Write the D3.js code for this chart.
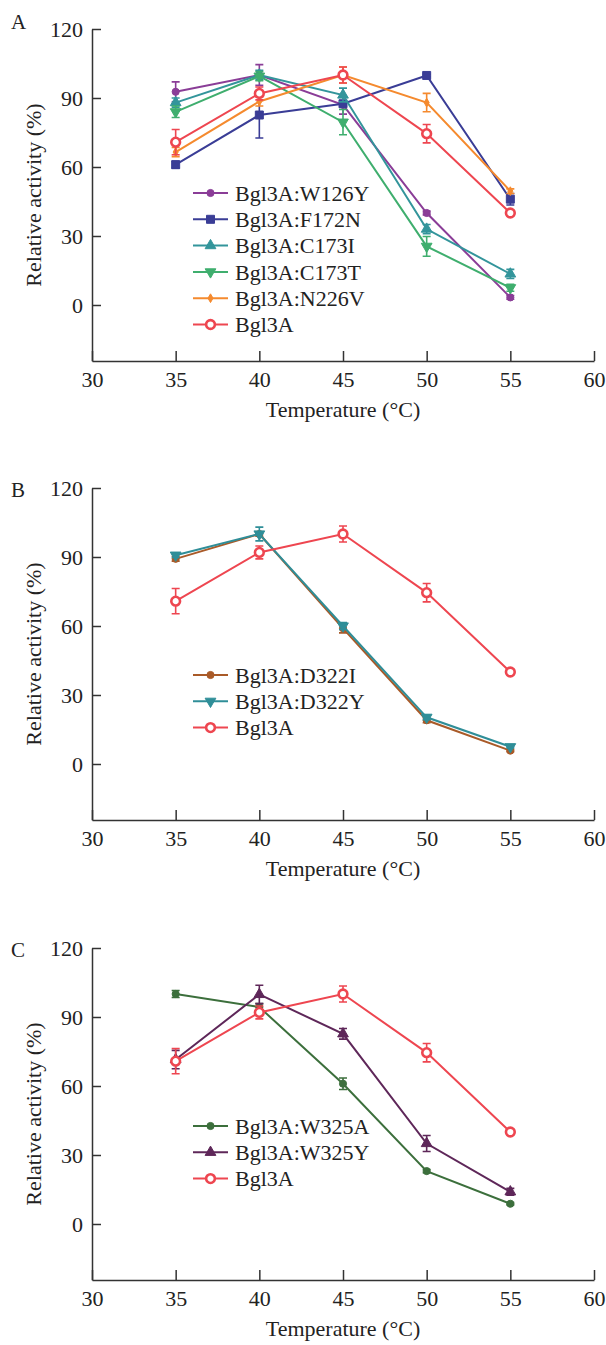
<!DOCTYPE html>
<html>
<head>
<meta charset="utf-8">
<script src="https://cdn.jsdelivr.net/npm/d3@7"></script>
<style>
  body { margin: 0; background: #fff; }
  svg text { font-family: "Liberation Serif", "Times New Roman", serif; fill: #222; }
</style>
</head>
<body>
<script>
const temps = [35, 40, 45, 50, 55];
const xTicks = [30, 35, 40, 45, 50, 55, 60];
const yTicks = [0, 30, 60, 90, 120];

// relative activity (%) and error bars
const w126y = [92.7, 100, 87, 40, 3.3];
const w126yErr = [4.3, 4.5, 4, 0.8, 0.8];
const f172n = [61, 82.6, 87.5, 99.8, 46];
const f172nErr = [1.5, 10, 1, 0.5, 2.5];
const c173i = [88, 100, 91.3, 33, 13.5];
const c173iErr = [2, 2, 3, 2, 2];
const c173t = [84, 99.5, 79.5, 25.5, 7.5];
const c173tErr = [2.5, 2, 5.5, 4.3, 1.5];
const n226v = [66.5, 88.5, 100, 88, 49.5];
const n226vErr = [2, 2, 3.5, 4, 1];
const bgl3a = [70.8, 92, 100, 74.5, 40];
const bgl3aErr = [5.5, 2.8, 3.5, 4, 1.2];
const d322i = [89.2, 100, 59, 19, 5.8];
const d322iErr = [1, 1, 2, 1, 0.5];
const d322y = [90.8, 100, 60, 20.3, 7.5];
const d322yErr = [1, 3, 1.5, 1, 0.5];
const w325a = [100, 94.3, 61, 23, 8.8];
const w325aErr = [1.5, 1.5, 2.5, 0.7, 0.5];
const w325y = [71.5, 99.8, 82.7, 35, 14];
const w325yErr = [4, 4, 2.3, 3.5, 1.5];

const wild = { name: "Bgl3A", values: bgl3a, errs: bgl3aErr, color: "#ee4650", symbol: "open" };

const panels = [
  { letter: "A", top: 29, legendY: 193, series: [
    { name: "Bgl3A:W126Y", values: w126y, errs: w126yErr, color: "#8a3d97", symbol: "circle" },
    { name: "Bgl3A:F172N", values: f172n, errs: f172nErr, color: "#3a3d96", symbol: "square" },
    { name: "Bgl3A:C173I", values: c173i, errs: c173iErr, color: "#33959b", symbol: "triUp" },
    { name: "Bgl3A:C173T", values: c173t, errs: c173tErr, color: "#3fae6e", symbol: "triDown" },
    { name: "Bgl3A:N226V", values: n226v, errs: n226vErr, color: "#f58a2e", symbol: "diamond" },
    wild ] },
  { letter: "B", top: 488, legendY: 675, series: [
    { name: "Bgl3A:D322I", values: d322i, errs: d322iErr, color: "#a95a28", symbol: "circle" },
    { name: "Bgl3A:D322Y", values: d322y, errs: d322yErr, color: "#2f8e98", symbol: "triDown" },
    wild ] },
  { letter: "C", top: 948, legendY: 1126, series: [
    { name: "Bgl3A:W325A", values: w325a, errs: w325aErr, color: "#3c6f3c", symbol: "circle" },
    { name: "Bgl3A:W325Y", values: w325y, errs: w325yErr, color: "#5e2759", symbol: "triUp" },
    wild ] }
];

const W = 606, H = 1345;
const left = 92, right = 594, plotH = 332, legendStep = 26.3;

const svg = d3.select("body").append("svg").attr("width", W).attr("height", H);

const symbols = {
  circle: d3.symbol(d3.symbolCircle, 40),
  square: d3.symbol(d3.symbolSquare, 64),
  triUp: d3.symbol(d3.symbolTriangle, 50),
  triDown: d3.symbol(d3.symbolTriangle, 50),
  diamond: d3.symbol(d3.symbolDiamond, 22),
  open: d3.symbol(d3.symbolCircle, 60)
};

function drawMarker(g, s, x, y) {
  g.append("path")
    .attr("d", symbols[s.symbol]())
    .attr("transform", `translate(${x},${y})` + (s.symbol === "triDown" ? " rotate(180)" : ""))
    .attr("fill", s.symbol === "open" ? "#fff" : s.color)
    .attr("stroke", s.color)
    .attr("stroke-width", s.symbol === "open" ? 2.6 : 1);
}

panels.forEach((p) => {
  const x = d3.scaleLinear().domain([30, 60]).range([left, right]);
  const y = d3.scaleLinear().domain([-24.35, 120]).range([p.top + plotH, p.top]);
  const g = svg.append("g");

  const xAxis = g.append("g")
    .attr("transform", `translate(0,${p.top + plotH})`)
    .call(d3.axisBottom(x).tickValues(xTicks).tickSizeInner(-10).tickSizeOuter(0).tickPadding(10));
  const yAxis = g.append("g")
    .attr("transform", `translate(${left},0)`)
    .call(d3.axisLeft(y).tickValues(yTicks).tickSizeInner(-9).tickSizeOuter(0).tickPadding(9));
  [xAxis, yAxis].forEach((a) => {
    a.selectAll("path, line").attr("stroke", "#333").attr("stroke-width", 1.5);
    a.selectAll("text").attr("font-size", 22).attr("fill", "#222")
      .style("font-family", '"Liberation Serif", serif');
  });

  g.append("text")
    .attr("x", (left + right) / 2)
    .attr("y", p.top + plotH + 48)
    .attr("dy", "0.35em")
    .attr("text-anchor", "middle")
    .attr("font-size", 22)
    .text("Temperature (°C)");

  g.append("text")
    .attr("transform", `translate(33,${p.top + plotH / 2}) rotate(-90)`)
    .attr("dy", "0.35em")
    .attr("text-anchor", "middle")
    .attr("font-size", 22)
    .text("Relative activity (%)");

  g.append("text")
    .attr("x", 11)
    .attr("y", p.top + (p.letter === "A" ? 0 : 9))
    .attr("font-size", 21)
    .text(p.letter);

  const line = d3.line().x((d, i) => x(temps[i])).y((d) => y(d));

  // draw the wild type last so it sits on top like in the figure
  const order = p.series.slice();
  order.forEach((s) => {
    const sg = g.append("g");
    sg.append("path")
      .attr("d", line(s.values))
      .attr("fill", "none")
      .attr("stroke", s.color)
      .attr("stroke-width", 2);
    s.values.forEach((v, i) => {
      const cx = x(temps[i]);
      const y0 = y(v - s.errs[i]), y1 = y(v + s.errs[i]);
      sg.append("path")
        .attr("d", `M${cx},${y0}V${y1}M${cx - 4},${y0}H${cx + 4}M${cx - 4},${y1}H${cx + 4}`)
        .attr("stroke", s.color)
        .attr("stroke-width", 1.6)
        .attr("fill", "none");
      drawMarker(sg, s, cx, y(v));
    });
  });

  // legend
  p.series.forEach((s, i) => {
    const ly = p.legendY + i * legendStep;
    const lg = g.append("g");
    lg.append("line")
      .attr("x1", 193).attr("x2", 228)
      .attr("y1", ly).attr("y2", ly)
      .attr("stroke", s.color).attr("stroke-width", 2);
    drawMarker(lg, s, 210.5, ly);
    lg.append("text")
      .attr("x", 235).attr("y", ly)
      .attr("dy", "0.35em")
      .attr("font-size", 22)
      .text(s.name);
  });
});
</script>
</body>
</html>
